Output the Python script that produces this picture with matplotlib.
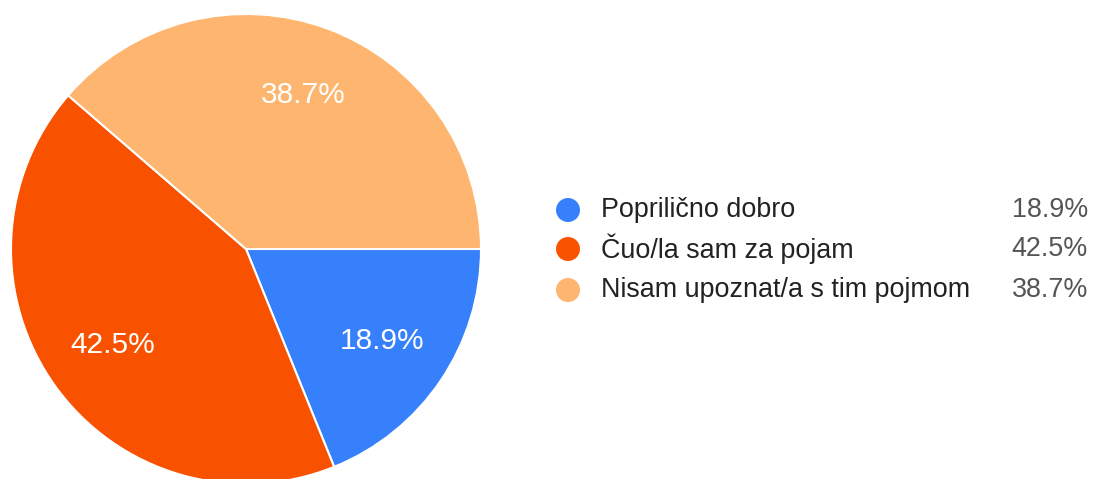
import matplotlib.pyplot as plt
from matplotlib.patches import Circle

labels = ["Poprilično dobro", "Čuo/la sam za pojam", "Nisam upoznat/a s tim pojmom"]
shares = [18.9, 42.5, 38.7]
colors = ["#3680fb", "#f85200", "#fdb56f"]

plt.rcParams['font.family'] = ['Liberation Sans', 'DejaVu Sans']

W, H = 1093, 479
fig = plt.figure(figsize=(W / 100, H / 100), dpi=100)
ax = fig.add_axes([0, 0, 1, 1])

# pie, clockwise from 3 o'clock
wedges, texts, autotexts = ax.pie(
    shares, colors=colors, startangle=0, counterclock=False,
    center=(246, H - 249), radius=235, frame=True,
    autopct=lambda p: f"{p:.1f}%", pctdistance=0.70,
    wedgeprops=dict(edgecolor="white", linewidth=1.5),
    textprops=dict(color="white", fontsize=21.5))
ax.set_xlim(0, W)
ax.set_ylim(0, H)
ax.set_aspect('equal')
ax.axis('off')

# legend
row_y = [210, 249, 290]
for lab, val, col, y in zip(labels, shares, colors, row_y):
    ax.add_patch(Circle((568, H - y), 12, color=col, lw=0))
    ax.text(601, H - y, lab, fontsize=19.4, color="#222222", va="center", ha="left")
    ax.text(1088, H - y, f"{val:.1f}%", fontsize=19.4, color="#555555", va="center", ha="right")

fig.savefig("out.png", dpi=100, facecolor="white")
